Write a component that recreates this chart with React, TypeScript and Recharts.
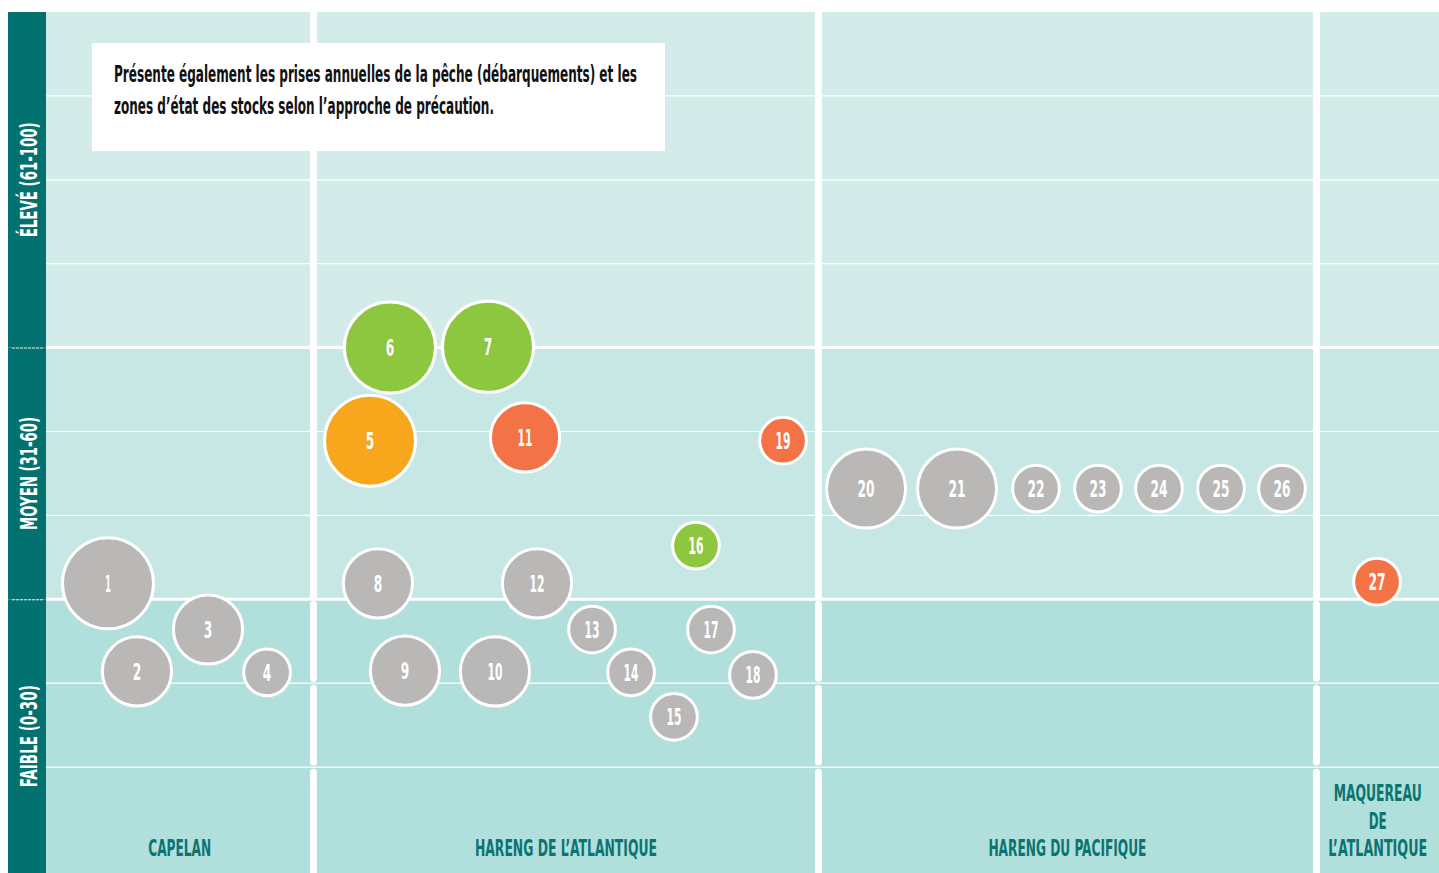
import React from "react";
import { ScatterChart, Scatter, XAxis, YAxis, ZAxis, ReferenceArea, ReferenceLine } from "recharts";

const W = 1439;
const H = 873;
const FONT = "'Liberation Sans Narrow', 'DejaVu Sans Condensed', 'Roboto Condensed', 'Arial Narrow', 'DejaVu Sans', sans-serif";
const TEAL_DARK = "#03716f";
const Y_MIN = -2.62;

// stocks (numbered as in the figure)
const STOCK_IDS = [1, 2, 3, 4, 5, 6, 7, 8, 9, 10, 11, 12, 13, 14, 15, 16, 17, 18, 19, 20, 21, 22, 23, 24, 25, 26, 27];
// horizontal position inside its species column (0-100 across the whole chart)
const STOCK_X = [4.45, 6.53, 11.63, 15.87, 23.26, 24.69, 31.73, 23.83, 25.77, 32.23, 34.39, 35.25, 39.2, 42.0, 45.08, 46.66, 47.74, 50.75, 52.91, 58.87, 65.4, 71.07, 75.52, 79.9, 84.35, 88.73, 95.55];
// score (0-100)
const STOCK_SCORE = [31.9, 21.4, 26.4, 21.3, 48.9, 60.0, 60.1, 31.9, 21.5, 21.4, 49.3, 31.9, 26.4, 21.3, 16.0, 36.4, 26.4, 21.0, 48.9, 43.2, 43.2, 43.2, 43.2, 43.2, 43.2, 43.2, 32.1];
// relative annual landings (bubble size)
const STOCK_LANDINGS = [100, 59, 59, 28, 100, 100, 100, 59, 59, 59, 59, 59, 28, 28, 28, 28, 28, 28, 28, 76, 76, 28, 28, 28, 28, 28, 28];
// precautionary approach zone
const STOCK_ZONE = [
  "inconnue", "inconnue", "inconnue", "inconnue", "prudence", "saine", "saine", "inconnue", "inconnue", "inconnue",
  "critique", "inconnue", "inconnue", "inconnue", "inconnue", "saine", "inconnue", "inconnue", "critique", "inconnue",
  "inconnue", "inconnue", "inconnue", "inconnue", "inconnue", "inconnue", "critique",
];

const ZONE_COLORS: Record<string, string> = {
  inconnue: "#b9b8b6",
  saine: "#8dc63f",
  prudence: "#f8a71d",
  critique: "#f37246",
};

const BAND_NAMES = ["FAIBLE (0-30)", "MOYEN (31-60)", "ÉLEVÉ (61-100)"];
const BAND_FROM = [Y_MIN, 30, 60];
const BAND_TO = [30, 60, 100];
const BAND_FILLS = ["#b1dfdb", "#c6e7e4", "#d4ece9"];
const BAND_LABEL_LEN = [102, 113, 115];

const GRID_TICKS = [10, 20, 30, 40, 50, 60, 70, 80, 90];
// separator pieces: solid above 30, rounded dashes in the "faible" band
const SEP_FROM = [30, 20.6, 10.6, Y_MIN];
const SEP_TO = [100, 29.4, 19.4, 9.4];

const CATEGORY_NAMES = [["CAPELAN"], ["HARENG DE L’ATLANTIQUE"], ["HARENG DU PACIFIQUE"], ["MAQUEREAU", "DE", "L’ATLANTIQUE"]];
const CATEGORY_LABEL_LEN = [[63], [182], [158], [88, 18, 99]];
const CATEGORY_BOUNDS = [0, 19.2, 55.45, 91.2, 100];

const NOTE_LINES = [
  "Présente également les prises annuelles de la pêche (débarquements) et les",
  "zones d’état des stocks selon l’approche de précaution.",
];
const NOTE_LINE_LEN = [523, 380];

const points = STOCK_IDS.map((id, i) => ({
  id,
  x: STOCK_X[i],
  y: STOCK_SCORE[i],
  z: STOCK_LANDINGS[i],
  zone: STOCK_ZONE[i],
}));

function Bubble(props: any) {
  const { cx, cy, payload } = props;
  const r = props.width ? props.width / 2 : Math.sqrt(props.size / Math.PI);
  const label = String(payload.id);
  const len = label.length === 1 ? (label === "1" ? 6 : 8.5) : label.startsWith("1") ? 15 : 17;
  return (
    <g>
      <circle cx={cx} cy={cy} r={r - 1.5} fill={ZONE_COLORS[payload.zone]} stroke="#fff" strokeWidth={3} />
      <text
        x={cx}
        y={cy + 8.5}
        textAnchor="middle"
        fill="#fff"
        fontFamily={FONT}
        fontWeight="bold"
        fontSize={23}
        textLength={len}
        lengthAdjust="spacingAndGlyphs"
      >
        {label}
      </text>
    </g>
  );
}

function BandLabel(props: any) {
  const { viewBox, name, boundary, len } = props;
  const { x, y, height } = viewBox;
  const cx = x - 17;
  const cy = y + height / 2;
  return (
    <g>
      <rect x={x - 38} y={y} width={38} height={height} fill={TEAL_DARK} />
      {boundary ? (
        <line x1={x - 34} x2={x - 2} y1={y} y2={y} stroke="#fff" strokeWidth={2} strokeDasharray="3 1" />
      ) : null}
      <text
        x={cx}
        y={cy + 8.5}
        transform={`rotate(-90 ${cx} ${cy})`}
        textAnchor="middle"
        fill="#fff"
        fontFamily={FONT}
        fontWeight="bold"
        fontSize={23}
        textLength={len}
        lengthAdjust="spacingAndGlyphs"
      >
        {name}
      </text>
    </g>
  );
}

function CategoryLabel(props: any) {
  const { viewBox, lines, lens } = props;
  const cx = viewBox.x + viewBox.width / 2;
  const bottom = 856;
  return (
    <g>
      {lines.map((l: string, i: number) => (
        <text
          key={l}
          x={cx}
          y={bottom - (lines.length - 1 - i) * 27.5}
          textAnchor="middle"
          fill="#0b7472"
          fontFamily={FONT}
          fontWeight="bold"
          fontSize={23}
          textLength={lens[i]}
          lengthAdjust="spacingAndGlyphs"
        >
          {l}
        </text>
      ))}
    </g>
  );
}

function NoteBox() {
  return (
    <svg
      width={573}
      height={108}
      style={{ position: "absolute", left: 92, top: 43, display: "block" }}
    >
      <rect x={0} y={0} width={573} height={108} fill="#fff" />
      {NOTE_LINES.map((l, i) => (
        <text
          key={i}
          x={22}
          y={39 + i * 32}
          fill="#111"
          fontFamily={FONT}
          fontWeight="bold"
          fontSize={23}
          textLength={NOTE_LINE_LEN[i]}
          lengthAdjust="spacingAndGlyphs"
        >
          {l}
        </text>
      ))}
    </svg>
  );
}

export default function App() {
  return (
    <div style={{ position: "absolute", left: 0, top: 0, width: W, height: H, background: "#fff" }}>
      <ScatterChart width={W} height={H} margin={{ top: 12, right: 0, bottom: 0, left: 46 }}>
        <XAxis type="number" dataKey="x" domain={[0, 100]} hide allowDataOverflow />
        <YAxis type="number" dataKey="y" domain={[Y_MIN, 100]} hide allowDataOverflow />
        <ZAxis type="number" dataKey="z" domain={[0, 100]} range={[0, Math.PI * 47 * 47]} />

        {BAND_NAMES.map((name, i) => (
          <ReferenceArea
            key={name}
            y1={BAND_FROM[i]}
            y2={BAND_TO[i]}
            fill={BAND_FILLS[i]}
            fillOpacity={1}
            stroke="none"
            label={<BandLabel name={name} boundary={i < 2} len={BAND_LABEL_LEN[i]} />}
          />
        ))}

        {GRID_TICKS.map((t) => (
          <ReferenceLine key={t} y={t} stroke="#fff" strokeWidth={t === 30 || t === 60 ? 3 : 1.2} />
        ))}

        {CATEGORY_BOUNDS.slice(1, -1).map((b) =>
          SEP_FROM.map((f, j) => (
            <ReferenceLine
              key={`${b}-${j}`}
              segment={[
                { x: b, y: f },
                { x: b, y: SEP_TO[j] },
              ]}
              stroke="#fff"
              strokeWidth={7}
              strokeLinecap={j === 0 ? "butt" : "round"}
            />
          ))
        )}

        {CATEGORY_NAMES.map((lines, i) => (
          <ReferenceArea
            key={lines.join(" ")}
            x1={CATEGORY_BOUNDS[i]}
            x2={CATEGORY_BOUNDS[i + 1]}
            y1={Y_MIN}
            y2={0}
            fill="none"
            stroke="none"
            label={<CategoryLabel lines={lines} lens={CATEGORY_LABEL_LEN[i]} />}
          />
        ))}

        <Scatter data={points} shape={Bubble} isAnimationActive={false} />
      </ScatterChart>
      <NoteBox />
    </div>
  );
}
